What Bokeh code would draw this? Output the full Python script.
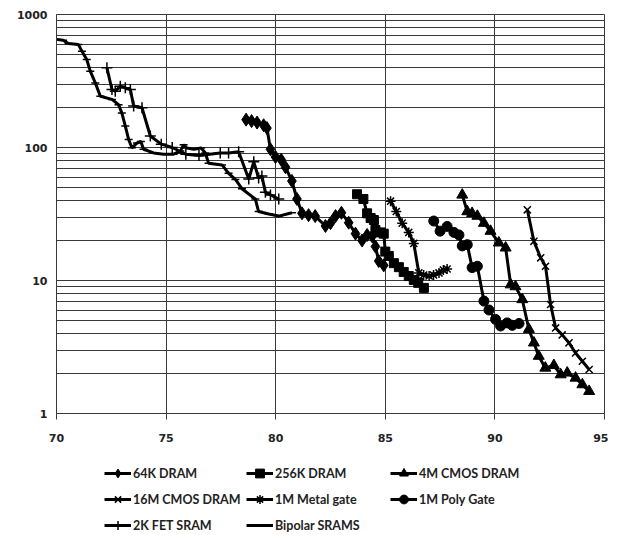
from bokeh.plotting import figure
from bokeh.layouts import column
from bokeh.models import FixedTicker, Legend, LegendItem
from bokeh.embed import file_html
from bokeh.resources import INLINE

# ---------------- data ----------------
x_ticks = [70, 75, 80, 85, 90, 95]
y_ticks = [1, 10, 100, 1000]
y_labels = ["1", "10", "100", "1000"]

yr_64k = [78.65, 78.9, 79.15, 79.45, 79.6, 79.76, 79.99, 80.25, 80.45, 80.74, 80.97, 81.2,
          81.5, 81.8, 82.27, 82.5, 82.73, 83.0, 83.33, 83.64, 83.94, 84.17, 84.4, 84.55, 84.7, 84.93]
val_64k = [162, 158, 154, 147, 140, 97, 85, 81, 71, 56, 41, 32,
           31, 30.5, 25.7, 27, 30.5, 32.3, 27.2, 22.5, 20, 22, 21.5, 18, 14, 13]

yr_256k = [83.71, 84.0, 84.17, 84.33, 84.48, 84.55, 84.78, 84.93, 85.0, 85.16, 85.39, 85.62,
           85.84, 86.07, 86.3, 86.5, 86.76]
val_256k = [44.5, 41, 32, 29.5, 28.5, 24, 23, 22.5, 16.5, 15.3, 13.5, 12.6,
            11.6, 10.8, 10.1, 9.6, 8.8]

yr_4m = [88.51, 88.74, 88.96, 89.2, 89.5, 89.8, 90.18, 90.49, 90.72, 90.94, 91.25, 91.55,
         91.78, 92.0, 92.3, 92.69, 93.0, 93.3, 93.68, 93.99, 94.3]
val_4m = [44, 33, 32, 30.5, 27, 23.5, 19.2, 17.6, 9.3, 9.0, 7.2, 4.3,
          3.4, 2.7, 2.2, 2.3, 1.96, 2.02, 1.85, 1.65, 1.47]

yr_16m = [91.48, 91.78, 92.09, 92.31, 92.54, 92.77, 93.07, 93.38, 93.68, 93.99, 94.3]
val_16m = [34, 19.7, 14.8, 12.8, 6.6, 4.4, 3.9, 3.4, 2.85, 2.47, 2.14]

yr_metal = [85.24, 85.5, 85.77, 86.07, 86.3, 86.53, 86.75, 87.0, 87.2, 87.45, 87.65, 87.82]
val_metal = [39.5, 33, 27, 23, 19, 11.4, 11, 10.8, 11, 11.4, 12, 12.2]

yr_poly = [87.21, 87.5, 87.82, 88.13, 88.36, 88.51, 88.74, 88.96, 89.2, 89.5, 89.73, 90.03,
           90.26, 90.56, 90.79, 91.1]
val_poly = [28, 23.5, 25.5, 23, 22, 18.2, 18.6, 12.5, 12.8, 7.0, 6.0, 5.1,
            4.55, 4.8, 4.6, 4.75]

yr_fet = [72.3, 72.53, 72.68, 72.91, 73.14, 73.37, 73.52, 73.9, 74.28, 74.78, 75.28, 75.9,
          76.5, 77.47, 77.85, 78.31, 78.77, 79.0, 79.22, 79.37, 79.53, 79.76, 80.14]
val_fet = [397, 273, 265, 289, 281, 273, 205, 199, 122, 106, 100, 89,
           87, 91, 91, 93, 58, 78, 59, 61, 46, 44, 41]

yr_bip = [70.0, 70.3, 70.55, 71.0, 71.16, 71.38, 71.54, 71.77, 72.0, 72.53, 72.83, 72.98,
          73.14, 73.29, 73.44, 73.67, 73.85, 73.97, 74.43, 74.89, 75.34, 75.65, 75.8, 75.95,
          76.26, 76.6, 76.79, 76.94, 77.55, 77.85, 78.16, 78.46, 79.07, 79.22, 79.68, 80.14, 80.74]
val_bip = [650, 640, 605, 594, 530, 459, 375, 306, 243, 230, 210, 182,
           145, 115, 99.5, 108, 111, 97, 91, 89, 89, 94, 105, 99,
           97, 99, 91, 76, 74, 64, 57.5, 49, 41, 33, 31.6, 30.5, 32.3]

series = [
    ("64K DRAM", yr_64k, val_64k, "diamond", 13),
    ("256K DRAM", yr_256k, val_256k, "square", 9),
    ("4M CMOS DRAM", yr_4m, val_4m, "triangle", 11),
    ("16M CMOS DRAM", yr_16m, val_16m, "x", 10),
    ("1M Metal gate", yr_metal, val_metal, "asterisk", 10),
    ("1M Poly Gate", yr_poly, val_poly, "circle", 10),
    ("2K FET SRAM", yr_fet, val_fet, "cross", 11),
    ("Bipolar SRAMS", yr_bip, val_bip, "dash", 8),
]


def draw(fig, xs, ys, marker, size):
    lr = fig.line(xs, ys, line_color="black", line_width=3)
    if marker in ("x", "asterisk", "cross", "dash"):
        sr = fig.scatter(xs, ys, marker=marker, size=size, line_color="black", line_width=1.5)
    else:
        sr = fig.scatter(xs, ys, marker=marker, size=size, fill_color="black", line_color="black")
    return lr, sr


# ---------------- main chart ----------------
p = figure(width=608, height=445, x_range=(70, 95), y_range=(1, 1000), y_axis_type="log",
           output_backend="svg", toolbar_location=None,
           min_border_left=56, min_border_right=4, min_border_top=14, min_border_bottom=32)
p.background_fill_color = "white"
p.border_fill_color = "white"
p.outline_line_color = "#3a3a3a"
p.outline_line_width = 1

grid_col = "#3a3a3a"
p.xaxis.ticker = FixedTicker(ticks=x_ticks)
minor = [m * d for d in (1, 10, 100) for m in range(2, 10)]
p.yaxis.ticker = FixedTicker(ticks=y_ticks, minor_ticks=minor)
p.yaxis.major_label_overrides = {t: s for t, s in zip(y_ticks, y_labels)}

p.xgrid.grid_line_color = grid_col
p.ygrid.grid_line_color = grid_col
p.ygrid.minor_grid_line_color = grid_col

for ax in (p.xaxis[0], p.yaxis[0]):
    ax.axis_line_color = grid_col
    ax.major_label_text_font = "DejaVu Sans"
    ax.major_label_text_font_style = "bold"
    ax.major_label_text_font_size = "11px"
    ax.major_label_text_color = "#222222"
    ax.minor_tick_line_color = None
    ax.major_tick_in = 0

p.xaxis.major_tick_out = 6
p.xaxis.major_tick_line_color = grid_col
p.xaxis.major_label_standoff = 14
p.yaxis.major_tick_out = 0
p.yaxis.major_tick_line_color = None
p.yaxis.major_label_standoff = 5

for name, xs, ys, marker, size in series:
    draw(p, xs, ys, marker, size)

# ---------------- legend strip (same series, view kept off the data) ----------------
pl = figure(width=608, height=88, x_range=(0, 1), y_range=(0, 1),
            x_axis_type=None, y_axis_type=None, output_backend="svg", toolbar_location=None,
            min_border_left=0, min_border_right=0, min_border_top=0, min_border_bottom=0)
pl.outline_line_color = None
pl.background_fill_color = "white"
pl.border_fill_color = "white"

items = {}
for name, xs, ys, marker, size in series:
    lr, sr = draw(pl, xs, ys, marker, size)
    items[name] = LegendItem(label=name, renderers=[lr, sr])

columns_spec = [
    (["64K DRAM", "16M CMOS DRAM", "2K FET SRAM"], (48, -3)),
    (["256K DRAM", "1M Metal gate", "Bipolar SRAMS"], (190, -3)),
    (["4M CMOS DRAM", "1M Poly Gate"], (334, 23)),
]
for names, loc in columns_spec:
    leg = Legend(items=[items[n] for n in names], location=loc, orientation="vertical",
                 glyph_width=27, glyph_height=22, label_height=22, spacing=4,
                 padding=0, margin=0, border_line_color=None, background_fill_alpha=0,
                 label_text_font="Lato", label_text_font_style="bold",
                 label_text_font_size="12.5px", label_standoff=2, label_text_color="#222222")
    pl.add_layout(leg, "center")

layout = column(p, pl, spacing=0)
open("out.html", "w").write(file_html(layout, INLINE))
